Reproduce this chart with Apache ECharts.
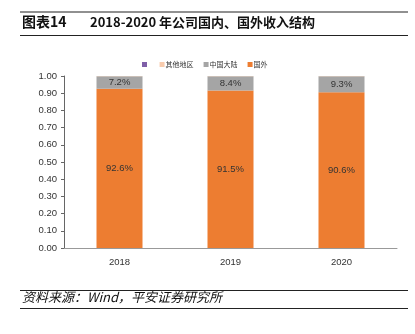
<!DOCTYPE html>
<html><head><meta charset="utf-8">
<script src="https://cdn.jsdelivr.net/npm/echarts@6/dist/echarts.min.js"></script>
<style>html,body{margin:0;padding:0;background:#fff}#c{width:415px;height:334px}</style>
</head><body><div id="c"></div>
<script>
const categories = ['2018', '2019', '2020'];
const foreign = [0.926, 0.915, 0.906];
const mainland = [0.072, 0.084, 0.093];
const other = [0.002, 0.001, 0.001];
const yTicks = [0, 0.1, 0.2, 0.3, 0.4, 0.5, 0.6, 0.7, 0.8, 0.9, 1.0];
const seriesNames = [' ', '其他地区', '中国大陆', '国外'];

const narrow = '"Liberation Sans Narrow", "Arial Narrow", "Liberation Sans", sans-serif';
const cjk = '"Noto Sans CJK SC", "Liberation Sans", sans-serif';
const chart = echarts.init(document.getElementById('c'), null, {renderer: 'canvas'});
const pct = p => (p.value * 100).toFixed(1) + '%';
chart.setOption({
  animation: false,
  graphic: [
    {type: 'line', shape: {x1: 20, y1: 12, x2: 408, y2: 12}, style: {stroke: '#222', lineWidth: 1.2}},
    {type: 'line', shape: {x1: 20, y1: 35.5, x2: 408, y2: 35.5}, style: {stroke: '#222', lineWidth: 1.2}},
    {type: 'text', left: 22, top: 15, style: {text: '图表14', font: 'bold 14px ' + cjk, fill: '#111'}},
    {type: 'text', left: 90, top: 16, style: {text: '2018-2020 年公司国内、国外收入结构', font: 'bold 13px ' + cjk, fill: '#111'}},
    {type: 'line', shape: {x1: 20, y1: 290.5, x2: 408, y2: 290.5}, style: {stroke: '#222', lineWidth: 1}},
    {type: 'line', shape: {x1: 20, y1: 308.5, x2: 408, y2: 308.5}, style: {stroke: '#222', lineWidth: 1}},
    {type: 'text', left: 22, top: 291, style: {text: '资料来源：Wind，平安证券研究所', font: 'italic 13px ' + cjk, fill: '#111'}}
  ],
  legend: {
    top: 56, left: 137,
    data: seriesNames,
    itemWidth: 5, itemHeight: 5, itemGap: 10,
    icon: 'rect',
    textStyle: {fontSize: 7, color: '#333', fontFamily: cjk, padding: [0, 0, 0, -4]}
  },
  grid: {left: 64, right: 18, top: 76, bottom: 86},
  xAxis: {
    type: 'category', data: categories,
    axisLine: {lineStyle: {color: '#999'}},
    axisTick: {show: false},
    axisLabel: {color: '#333', fontSize: 9.5, fontFamily: narrow, margin: 9}
  },
  yAxis: {
    type: 'value', min: 0, max: 1, interval: 0.1,
    splitLine: {show: false},
    axisLine: {show: true, lineStyle: {color: '#666'}},
    axisTick: {show: true, length: 3, lineStyle: {color: '#666'}},
    axisLabel: {color: '#333', fontSize: 9.5, fontFamily: narrow, margin: 7, formatter: v => v.toFixed(2)}
  },
  series: [
    {name: seriesNames[3], type: 'bar', stack: 's', data: foreign, barWidth: 46, itemStyle: {color: '#ED7D31'},
     label: {show: true, position: 'inside', formatter: pct, color: '#333', fontSize: 9.5, fontFamily: narrow}},
    {name: seriesNames[2], type: 'bar', stack: 's', data: mainland, itemStyle: {color: '#A5A5A5'},
     label: {show: true, position: 'inside', formatter: pct, color: '#333', fontSize: 9.5, fontFamily: narrow}},
    {name: seriesNames[1], type: 'bar', stack: 's', data: other, itemStyle: {color: '#F8CBAD'}},
    {name: seriesNames[0], type: 'bar', stack: 's', data: [], itemStyle: {color: '#7F5FA8'}}
  ]
});
</script></body></html>
